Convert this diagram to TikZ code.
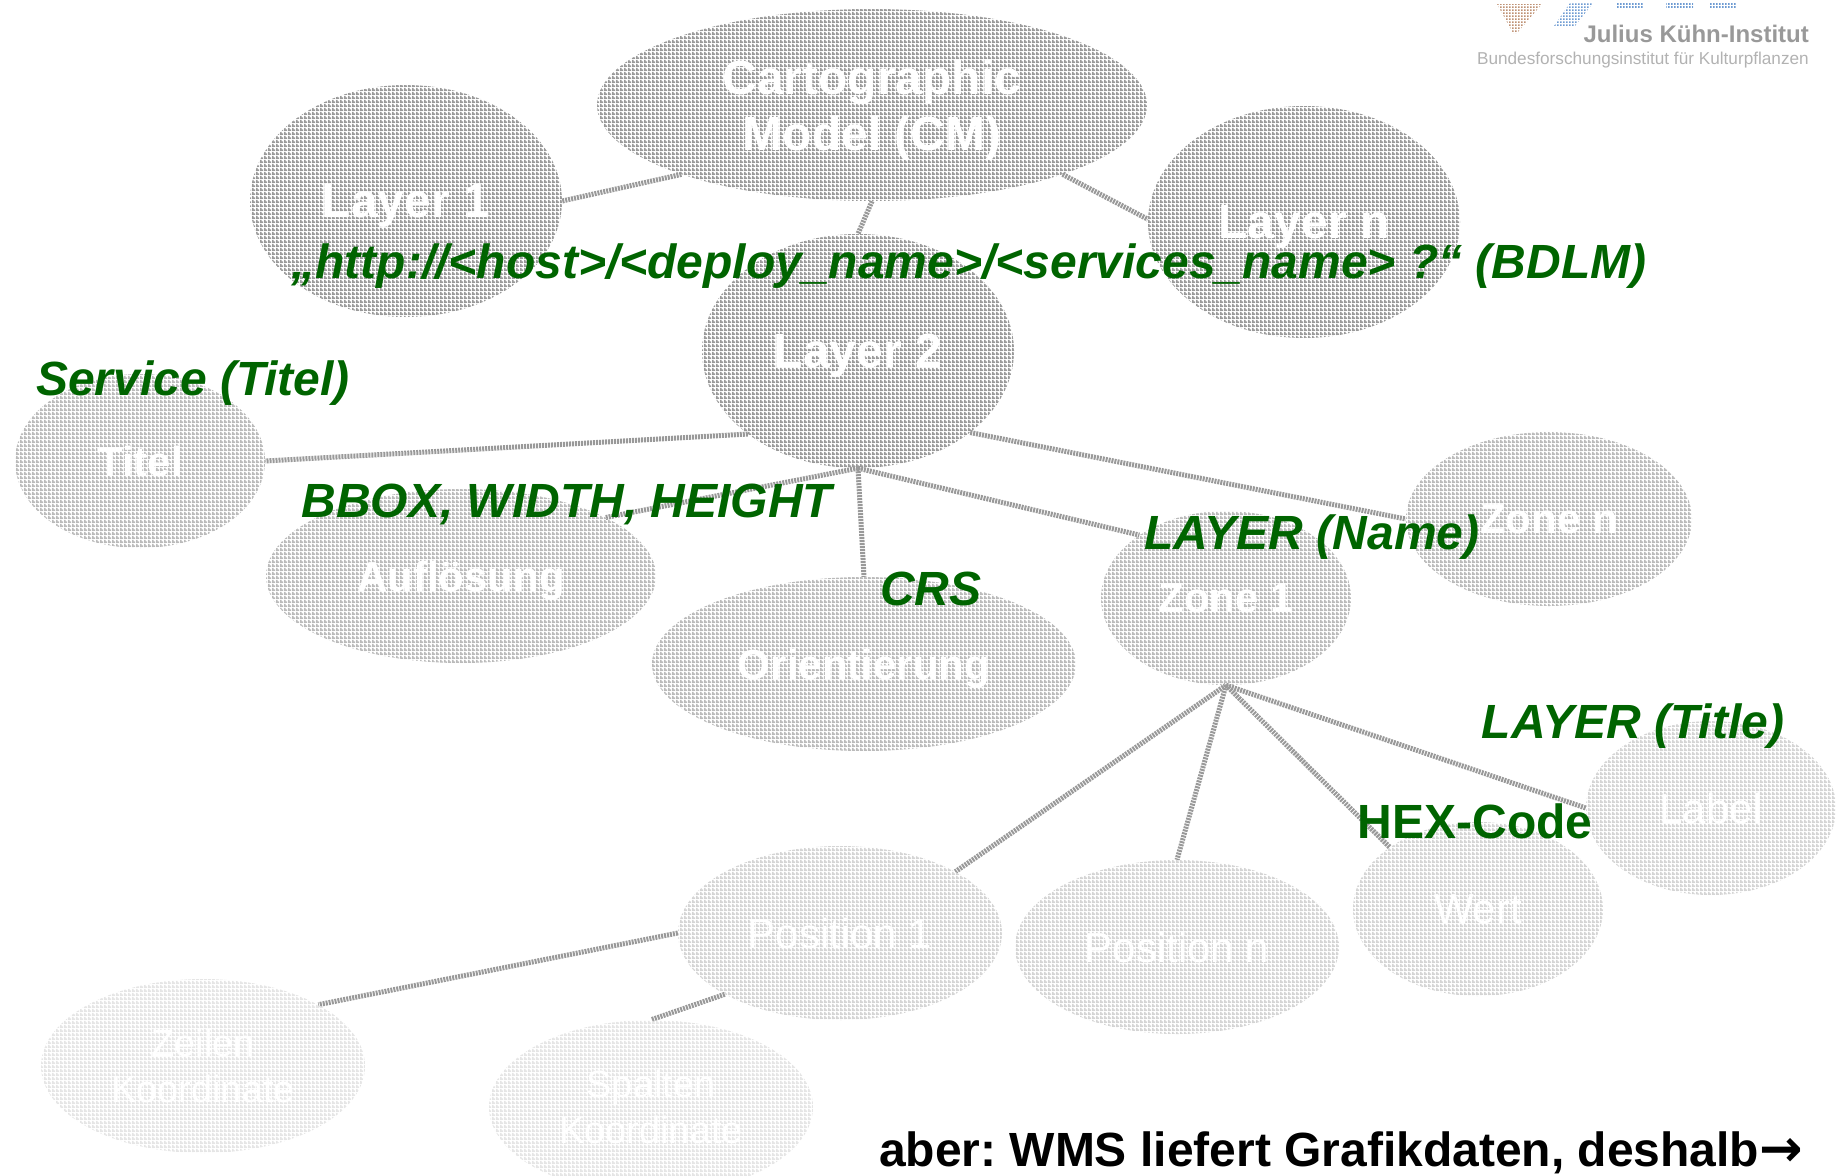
\documentclass[tikz,border=0pt]{standalone}
\usepackage{fontspec}
\setmainfont{Liberation Sans}
\newfontfamily\arrowfont{DejaVu Sans}
\usetikzlibrary{shapes.geometric,backgrounds,patterns}
\pgfdeclarepatternformonly{halftone}{\pgfqpoint{0pt}{0pt}}{\pgfqpoint{4pt}{4pt}}{\pgfqpoint{4pt}{4pt}}{
  \pgfpathrectangle{\pgfqpoint{0pt}{0pt}}{\pgfqpoint{4pt}{2pt}}
  \pgfpathrectangle{\pgfqpoint{0pt}{2pt}}{\pgfqpoint{2pt}{2pt}}\pgfusepath{fill}}
\pgfdeclarepatternformonly{logodots}{\pgfqpoint{0pt}{0pt}}{\pgfqpoint{3pt}{3pt}}{\pgfqpoint{3pt}{3pt}}{
  \pgfpathrectangle{\pgfqpoint{0pt}{0pt}}{\pgfqpoint{2pt}{2pt}}\pgfusepath{fill}}
\definecolor{jkigreen}{RGB}{0,100,0}
\definecolor{logobrown}{RGB}{190,145,115}
\definecolor{logoblue}{RGB}{110,155,210}
\tikzset{
  x=1pt,y=-1pt,
  bub/.style={ellipse,inner sep=0pt,text=white,align=center,text depth=0pt,font=\fontsize{42}{56}\selectfont,pattern=halftone},
  lev0/.style={bub,pattern color=black!40},
  lev1/.style={bub,pattern color=black!27},
  lev2/.style={bub,pattern color=black!17},
  lev3/.style={bub,pattern color=black!10},
  big/.style={font=\fontsize{48}{56}\selectfont\bfseries},
  bold/.style={font=\fontsize{42}{50}\selectfont\bfseries},
  small/.style={font=\fontsize{38}{46}\selectfont},
  link/.style={line width=5pt,draw=black!40,dash pattern=on 2pt off 1pt},
  note/.style={text=jkigreen,font=\fontsize{48}{56}\selectfont\bfseries\itshape,inner sep=0pt,text depth=0pt},
}
\begin{document}
\frenchspacing
\begin{tikzpicture}
\useasboundingbox (0,0) rectangle (1836,1175);
\node[lev0,big,minimum width=550pt,minimum height=192pt] (cm) at (872,105) {Cartographic\\Model (CM)};
\node[lev0,big,minimum width=312pt,minimum height=232pt] (l1) at (406,201) {Layer 1};
\node[lev0,big,minimum width=312pt,minimum height=232pt] (ln) at (1304,222) {Layer n};
\node[lev0,big,minimum width=312pt,minimum height=234pt] (l2) at (858,351) {Layer 2};
\node[lev1,bold,minimum width=250pt,minimum height=174pt] (tit) at (140,461) {Titel};
\node[lev1,bold,minimum width=390pt,minimum height=174pt] (auf) at (461,576) {Auflösung};
\node[lev1,bold,minimum width=424pt,minimum height=174pt] (ori) at (864,664) {Orientierung};
\node[lev1,bold,minimum width=250pt,minimum height=174pt] (z1) at (1226,598) {Zone 1};
\node[lev1,bold,minimum width=286pt,minimum height=174pt] (zn) at (1549,519) {Zone n};
\node[lev2,minimum width=324pt,minimum height=174pt] (p1) at (840,933) {Position 1};
\node[lev2,minimum width=324pt,minimum height=174pt] (pn) at (1177,947) {Position n};
\node[lev2,minimum width=250pt,minimum height=174pt] (wert) at (1478,909) {Wert};
\node[lev2,minimum width=250pt,minimum height=174pt] (lab) at (1711,808) {Label};
\node[lev3,small,minimum width=324pt,minimum height=174pt] (zei) at (203,1066) {Zeilen\\Koordinate};
\node[lev3,small,minimum width=324pt,minimum height=174pt] (spa) at (651,1107) {Spalten\\Koordinate};
\begin{scope}[on background layer]
\draw[link] (cm.200) -- (l1.east);
\draw[link] (cm.-20) -- (ln.179);
\draw[link] (cm.south) -- (l2.north);
\draw[link] (l2.217) -- (tit.east);
\draw[link] (l2.south) -- (auf.22);
\draw[link] (l2.south) -- (ori.north);
\draw[link] (l2.south) -- (z1.144);
\draw[link] (l2.-36) -- (zn.west);
\draw[link] (z1.south) -- (p1.28);
\draw[link] (z1.south) -- (pn.north);
\draw[link] (z1.south) -- (wert.145);
\draw[link] (z1.south) -- (lab.west);
\draw[link] (p1.west) -- (zei.28);
\draw[link] (p1.208) -- (spa.north);
\end{scope}
\node[note] (n1) at (969,261) {„http://<host>/<deploy\_name>/<services\_name> ?“ (BDLM)};
\node[note] (n2) at (193,378) {Service (Titel)};
\node[note] (n3) at (567,501) {BBOX, WIDTH, HEIGHT};
\node[note] (n4) at (931,589) {CRS};
\node[note] (n5) at (1312,532) {LAYER (Name)};
\node[note] (n6) at (1633,721) {LAYER (Title)};
\node[note,font=\fontsize{48}{56}\selectfont\bfseries] (n7) at (1475,821) {HEX-Code};
\node[inner sep=0pt,anchor=east,text=black,font=\fontsize{48}{56}\selectfont\bfseries] (n8) at (1803,1153) {aber: WMS liefert Grafikdaten, deshalb{\arrowfont\fontsize{52}{56}\selectfont →}};
% logo
\fill[pattern=logodots,pattern color=logobrown] (1497,4) -- (1542,4) -- (1517,33) -- (1513,33) -- cycle;
\fill[pattern=logodots,pattern color=logoblue] (1570,3) -- (1593,3) -- (1575,26) -- (1554,26) -- cycle;
\fill[pattern=logodots,pattern color=logoblue] (1617,3) rectangle (1643,7);
\fill[pattern=logodots,pattern color=logoblue] (1666,3) rectangle (1693,7);
\fill[pattern=logodots,pattern color=logoblue] (1710,3) rectangle (1736,7);
\node[inner sep=0pt,anchor=east,text=black!40,font=\fontsize{24}{30}\selectfont\bfseries] (j1) at (1809,34) {Julius Kühn-Institut};
\node[inner sep=0pt,anchor=east,text=black!30,font=\fontsize{17.2}{22}\selectfont] (j2) at (1809,60) {Bundesforschungsinstitut für Kulturpflanzen};
\end{tikzpicture}
\end{document}
